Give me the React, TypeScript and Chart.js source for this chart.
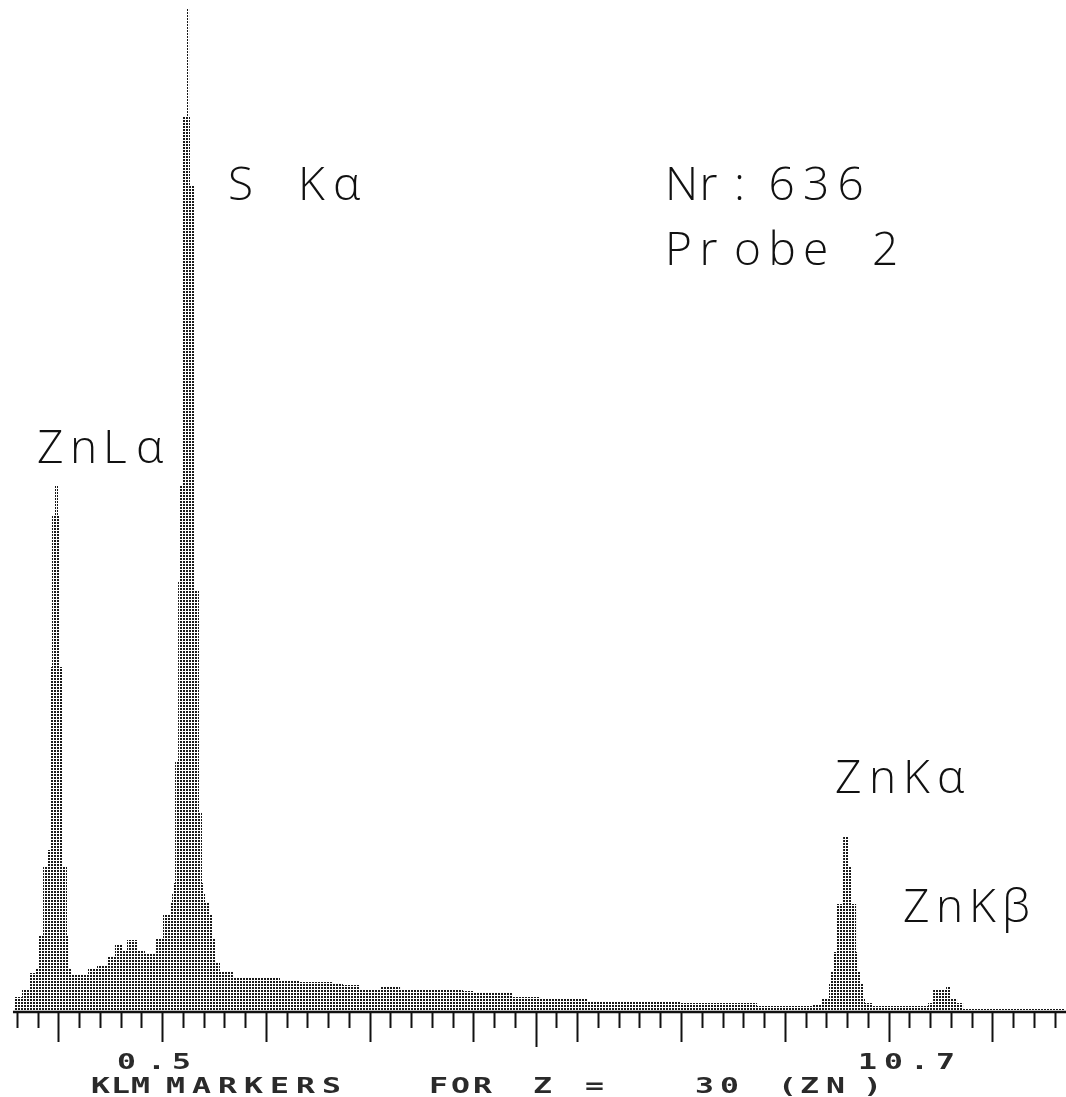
import { useEffect, useRef } from 'react';
import { Chart, registerables } from 'chart.js';

Chart.register(...registerables);

// ---- spectrum data (step histogram: value holds from energy[i] to energy[i+1]) ----
const energyKeV = [
  0.573, 0.650, 0.727, 0.776, 0.814, 0.853, 0.891, 0.930, 0.939, 0.968, 0.997, 1.007, 1.036, 1.084, 1.094, 1.132,
  1.286, 1.373, 1.469, 1.546, 1.614, 1.662, 1.758, 1.836, 1.942, 2.009, 2.086, 2.096, 2.105, 2.125, 2.154, 2.163,
  2.192, 2.240, 2.260, 2.269, 2.308, 2.356, 2.385, 2.394, 2.414, 2.462, 2.481, 2.510, 2.558, 2.683, 3.136, 3.329,
  3.647, 3.743, 3.907, 4.100, 4.293, 4.900, 4.996, 5.381, 5.642, 6.095, 6.991, 7.733, 8.272, 8.359, 8.426, 8.436,
  8.465, 8.503, 8.552, 8.562, 8.610, 8.648, 8.687, 8.706, 8.725, 8.754, 8.773, 8.850, 9.380, 9.429, 9.554, 9.592,
  9.660, 9.718, 10.70,
];
const counts = [
  15, 22, 39, 44, 77, 145, 162, 345, 497, 526, 497, 345, 145, 77, 44, 37,
  44, 47, 55, 67, 62, 72, 62, 58, 74, 97, 109, 119, 129, 250, 430, 526,
  895, 1003, 895, 827, 422, 200, 129, 119, 109, 97, 74, 50, 40, 35, 32, 30,
  28, 27, 22, 25, 22, 21, 20, 15, 14, 11, 9, 6, 7, 14, 29, 40,
  60, 108, 145, 175, 145, 108, 60, 40, 29, 14, 9, 6, 9, 22, 25, 14,
  9, 3, 3,
];

// ---- axis ----
const axisMinKeV = 0.5;
const axisMaxKeV = 10.7;
const countMax = 1012;
const minorTickKeV: number[] = [];
for (let i = 3; i <= 53; i++) minorTickKeV.push(Math.round(i * 0.2 * 10) / 10);
const majorTickKeV = [1, 2, 3, 4, 5, 6, 7, 8, 9, 10];
const markerTickKeV = [5.6];
const axisValueLabels = ['0.5', '10.7'];

// ---- texts ----
const peakLabels = ['ZnLα', 'S Kα', 'ZnKα', 'ZnKβ'];
const infoLines = ['Nr:636', 'Probe 2'];
const footerWords = ['KLM', 'MARKERS', 'FOR', 'Z', '=', '30', '(ZN)'];

const W = 1066;
const H = 1097;

function drawChars(ctx: CanvasRenderingContext2D, text: string, xs: number[], y: number, sx = 1) {
  Array.from(text).forEach((c, i) => {
    if (c === ' ') return;
    ctx.save();
    ctx.translate(xs[i], y);
    ctx.scale(sx, 1);
    ctx.fillText(c, 0, 0);
    ctx.restore();
  });
}
function grid(text: string, x0: number, adv: number) {
  return Array.from(text).map((_, i) => x0 + i * adv);
}

export default function App() {
  const ref = useRef<HTMLCanvasElement | null>(null);

  useEffect(() => {
    const canvas = ref.current;
    if (!canvas) return;

    const tile = document.createElement('canvas');
    tile.width = 3;
    tile.height = 3;
    const tctx = tile.getContext('2d')!;
    tctx.fillStyle = '#1a1a1a';
    tctx.fillRect(0, 0, 2, 2);
    const ctx0 = canvas.getContext('2d')!;
    const pattern = ctx0.createPattern(tile, 'repeat')!;

    const decor = {
      id: 'decor',
      afterDraw(chart: any) {
        const ctx: CanvasRenderingContext2D = chart.ctx;
        const xs = chart.scales.x;
        const ys = chart.scales.y;
        const y0 = ys.getPixelForValue(0);
        ctx.save();
        ctx.strokeStyle = '#111';
        ctx.lineWidth = 2.5;
        ctx.beginPath();
        ctx.moveTo(xs.getPixelForValue(energyKeV[0]) - 1, y0);
        ctx.lineTo(W, y0);
        ctx.stroke();

        ctx.lineWidth = 2;
        const tick = (v: number, len: number) => {
          const px = Math.round(xs.getPixelForValue(v)) + 0.5;
          ctx.beginPath();
          ctx.moveTo(px, y0);
          ctx.lineTo(px, y0 + len);
          ctx.stroke();
        };
        minorTickKeV.forEach((v) => {
          const isMajor = majorTickKeV.includes(v);
          const isMarker = markerTickKeV.includes(v);
          tick(v, isMarker ? 35 : isMajor ? 30 : 16);
        });

        // peak labels and info
        ctx.fillStyle = '#111';
        ctx.textAlign = 'left';
        ctx.textBaseline = 'alphabetic';
        ctx.font = '300 46px "Open Sans", "DejaVu Sans", sans-serif';
        drawChars(ctx, peakLabels[0], grid(peakLabels[0], 37, 33), 463);
        drawChars(ctx, peakLabels[1], grid(peakLabels[1], 228, 35), 200);
        drawChars(ctx, peakLabels[2], grid(peakLabels[2], 835, 34), 793);
        drawChars(ctx, peakLabels[3], grid(peakLabels[3], 903, 33), 922);
        drawChars(ctx, infoLines[0], grid(infoLines[0], 665, 34.5), 200);
        drawChars(ctx, infoLines[1], grid(infoLines[1], 665, 34.5), 265);

        // bottom labels
        ctx.fillStyle = '#2a2a2a';
        ctx.font = 'bold 21px "DejaVu Sans Mono", monospace';
        drawChars(ctx, axisValueLabels[0], [117, 147, 172], 1069, 1.5);
        drawChars(ctx, axisValueLabels[1], grid(axisValueLabels[1], 858, 26), 1069, 1.5);
        const fx = [
          grid(footerWords[0], 91, 20),
          grid(footerWords[1], 166, 26),
          grid(footerWords[2], 429, 22),
          [533],
          [585],
          grid(footerWords[5], 695, 25),
          [778, 800, 826, 863],
        ];
        footerWords.forEach((w, i) => drawChars(ctx, w, fx[i], 1093, 1.5));
        ctx.restore();
      },
    };

    const chart = new Chart(canvas, {
      type: 'line',
      data: {
        datasets: [
          {
            data: energyKeV.map((e, i) => ({ x: e, y: counts[i] })),
            stepped: true,
            fill: 'origin',
            backgroundColor: pattern,
            borderColor: 'rgba(0,0,0,0)',
            borderWidth: 0,
            pointRadius: 0,
          },
        ],
      },
      options: {
        animation: false,
        responsive: false,
        devicePixelRatio: 1,
        layout: { padding: { left: 6.4, right: 1, top: 0, bottom: H - 1012 } },
        scales: {
          x: { type: 'linear', min: axisMinKeV, max: axisMaxKeV, display: false },
          y: { min: 0, max: countMax, display: false },
        },
        plugins: { legend: { display: false }, tooltip: { enabled: false } },
      },
      plugins: [decor],
    });
    return () => chart.destroy();
  }, []);

  return (
    <div style={{ position: 'absolute', left: 0, top: 0, width: W, height: H, background: '#fff' }}>
      <canvas ref={ref} width={W} height={H} style={{ width: W, height: H, display: 'block' }} />
    </div>
  );
}
